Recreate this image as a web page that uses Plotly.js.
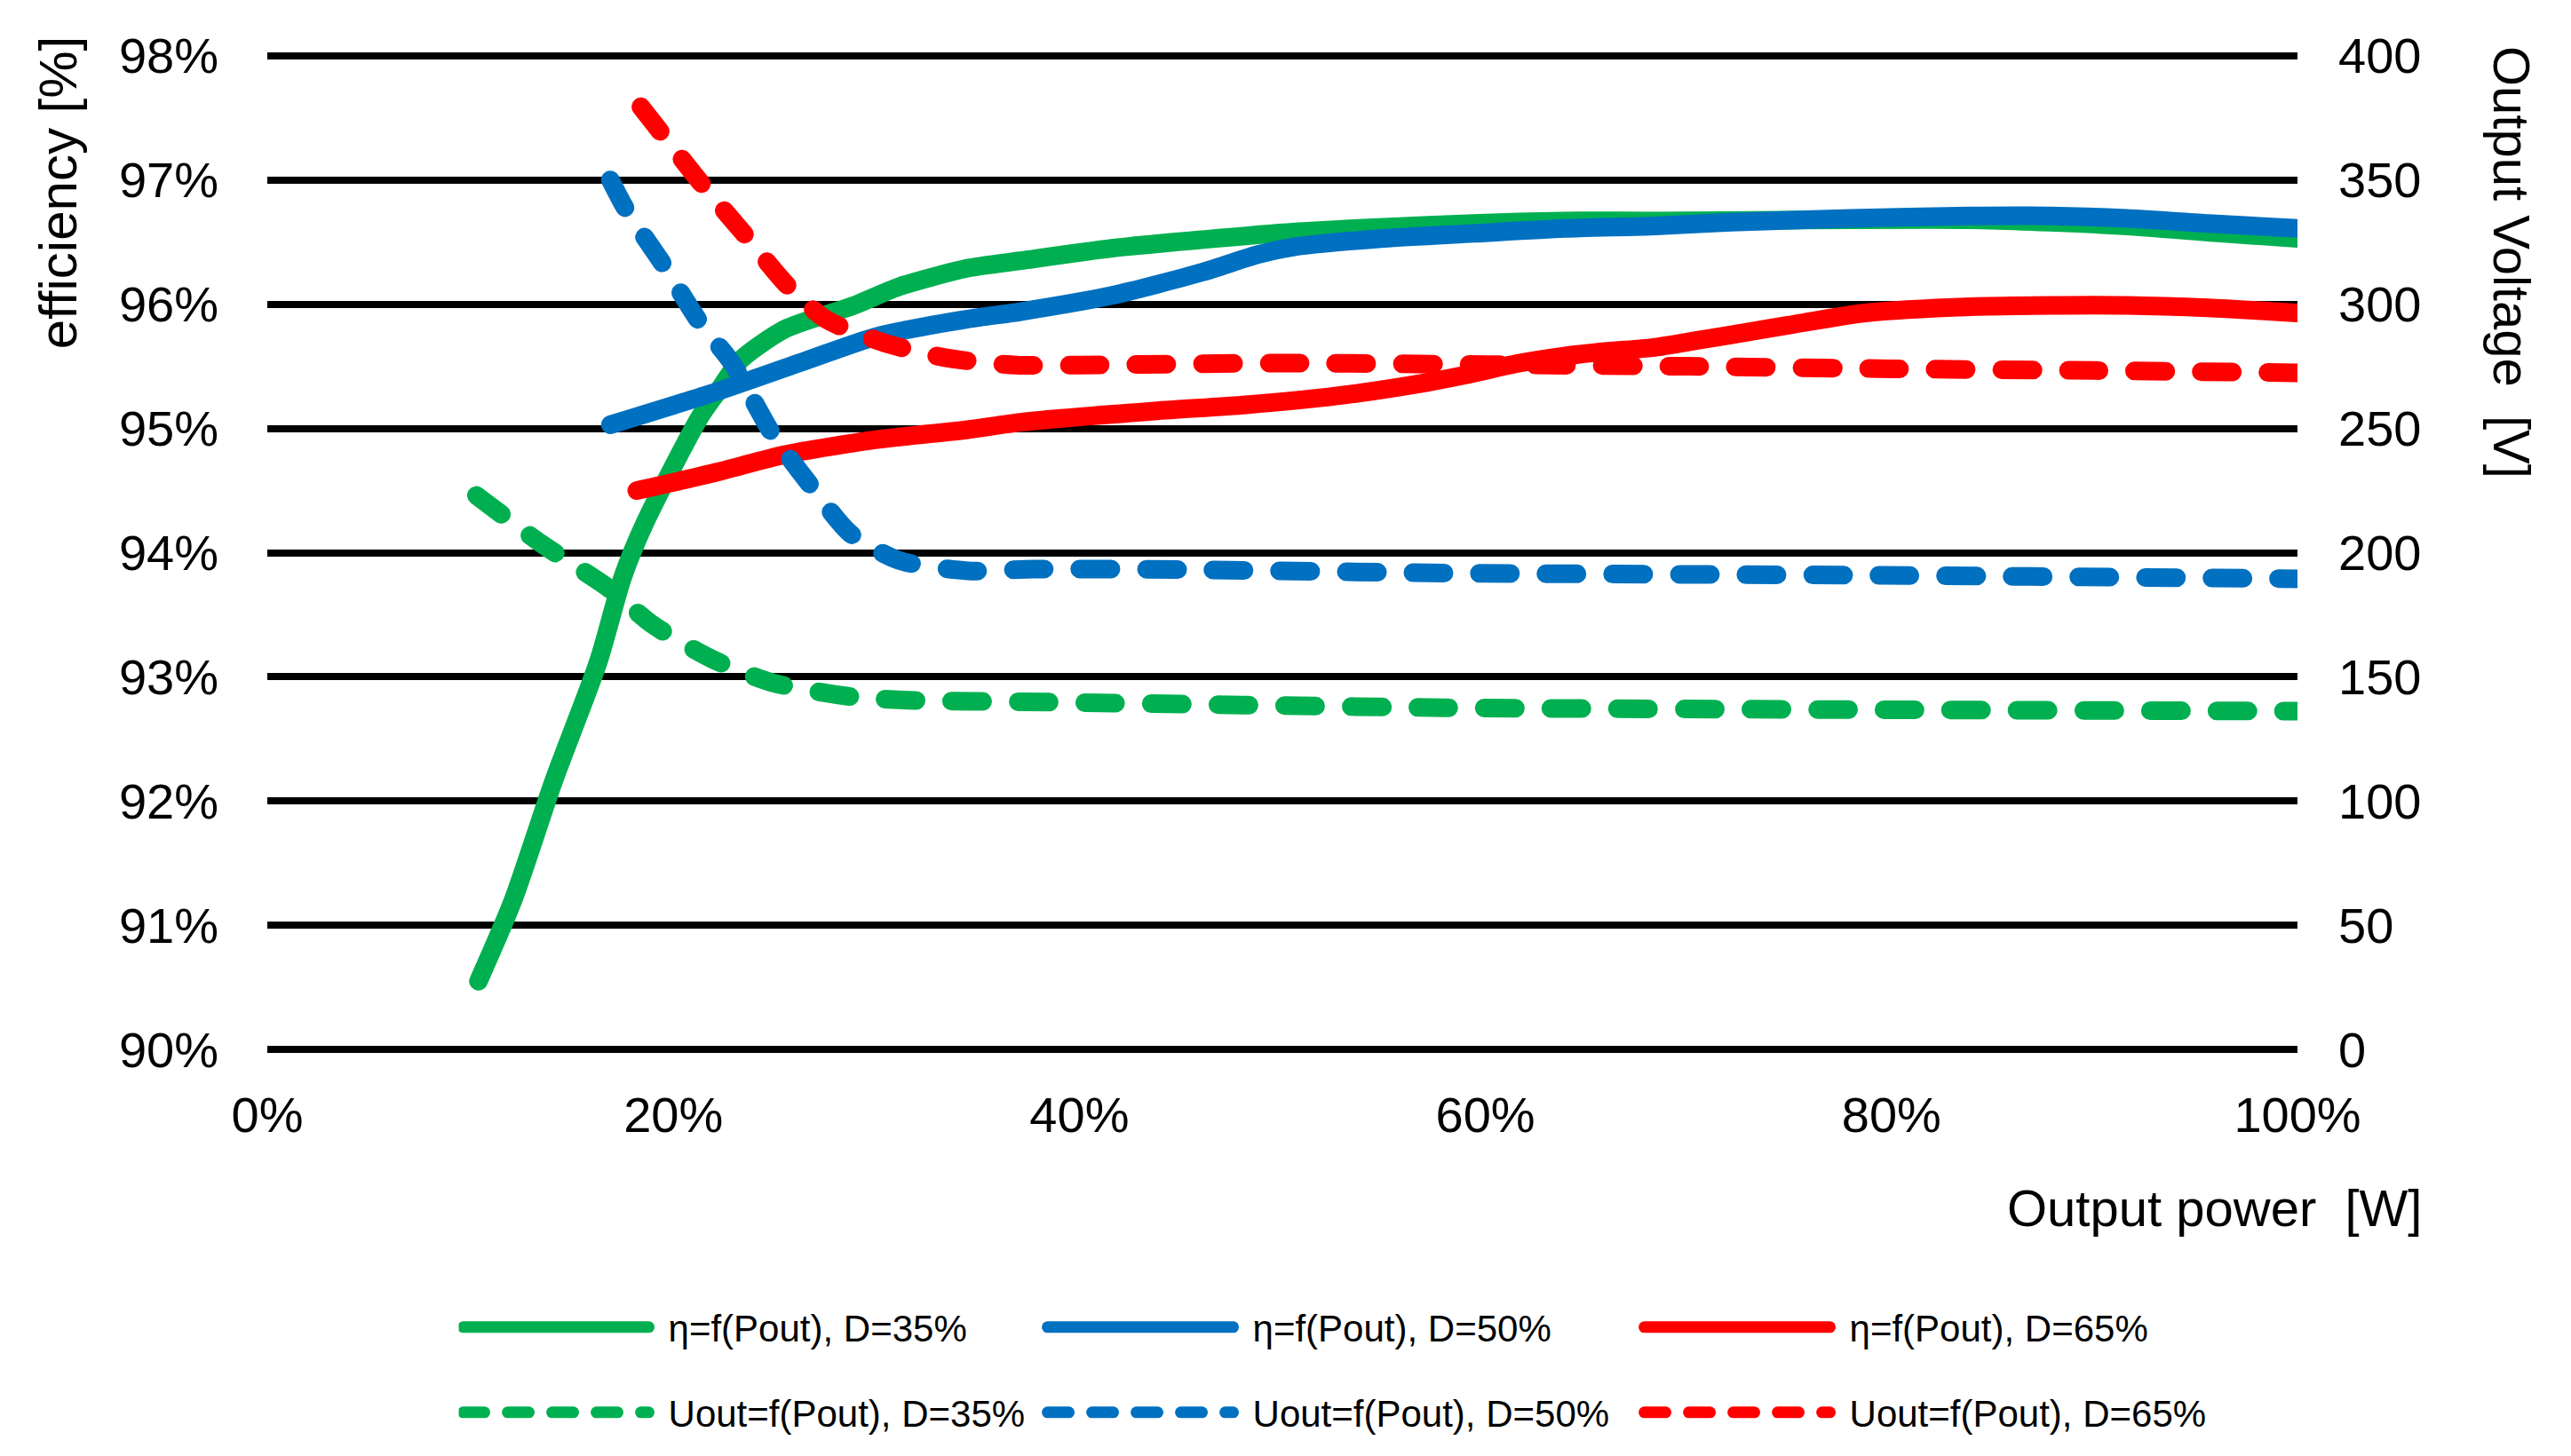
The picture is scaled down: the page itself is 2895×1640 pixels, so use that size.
<!DOCTYPE html>
<html>
<head>
<meta charset="utf-8">
<script src="https://cdn.plot.ly/plotly-3.0.1.min.js"></script>
<style>
html, body { margin: 0; padding: 0; background: #ffffff; }
#chart { width: 2895px; height: 1640px; }
#chart .js-line { stroke-linecap: round; }
#chart .legendlines path.js-line { stroke-width: 13px !important; }
#chart g.legend .legendlines path.js-line { stroke-dasharray: 209px, 3000px !important; }
#chart g.legend2 .legendlines path.js-line { stroke-dasharray: 24px, 26px, 24px, 26px, 24px, 26px, 24px, 26px, 9px, 3000px !important; }
</style>
</head>
<body>
<div id="chart"></div>
<script>
// ---- Data (output power in % of rated, efficiency in %, voltage in V) ----
const etaD35_x = [10.4, 12.1, 14.1, 16.3, 17.5, 18.6, 21.3, 22.2, 23.3, 25.5, 28.9, 31.1, 34.5, 37.1, 41.6, 46.1, 50.5, 55.0, 59.4, 63.9, 68.4, 78.0, 83.9, 87.8, 91.6, 95.6, 100];
const etaD35_y = [90.55, 91.2, 92.16, 93.12, 93.8, 94.24, 95.09, 95.30, 95.55, 95.80, 95.99, 96.14, 96.29, 96.35, 96.45, 96.52, 96.58, 96.62, 96.65, 96.67, 96.67, 96.68, 96.68, 96.66, 96.63, 96.58, 96.53];

const etaD50_x = [16.9, 22.2, 26.6, 30.0, 34.5, 37.1, 41.6, 46.1, 48.8, 50.5, 55.0, 59.4, 63.9, 68.4, 72.1, 78.0, 83.9, 87.8, 91.6, 95.6, 100];
const etaD50_y = [95.03, 95.30, 95.55, 95.74, 95.88, 95.94, 96.07, 96.26, 96.40, 96.46, 96.53, 96.57, 96.61, 96.63, 96.66, 96.69, 96.71, 96.71, 96.69, 96.65, 96.61];

const etaD65_x = [18.2, 22.2, 25.5, 30.0, 34.5, 37.1, 43.7, 48.2, 52.6, 57.1, 59.3, 61.5, 63.8, 66.0, 68.2, 70.5, 72.7, 74.9, 78.7, 83.9, 87.8, 91.6, 95.6, 100];
const etaD65_y = [94.50, 94.65, 94.79, 94.91, 94.99, 95.05, 95.14, 95.19, 95.26, 95.37, 95.44, 95.52, 95.58, 95.62, 95.65, 95.71, 95.77, 95.83, 95.93, 95.98, 95.99, 95.99, 95.97, 95.93];

const uD35_x = [10.3, 13.5, 16.8, 19.0, 21.9, 24.9, 28.8, 32.0, 37.1, 58, 79, 100];
const uD35_y = [223, 203.6, 185.8, 170.9, 157.2, 147.6, 142, 140.5, 140, 137.6, 136.8, 136.2];

const uD50_x = [16.9, 17.7, 19.5, 21.3, 22.9, 24.9, 26.9, 28.7, 31.1, 34.5, 37.8, 45, 58, 79, 100];
const uD50_y = [350, 337.7, 316, 292.7, 276.2, 247.5, 225.6, 207.8, 196.9, 192.7, 193.4, 193.2, 191.8, 190.9, 189.5];

const uD65_x = [18.4, 21.5, 23.5, 25.6, 27.5, 30.4, 33.6, 36.9, 40, 50, 60, 70, 80, 90, 100];
const uD65_y = [379.5, 347.4, 328.2, 307.7, 294, 284.4, 278.2, 275.5, 275.5, 276.3, 275.7, 275.0, 274.0, 273.3, 272.4];

const seriesNames = [
  'η=f(Pout), D=35%', 'η=f(Pout), D=50%', 'η=f(Pout), D=65%',
  'Uout=f(Pout), D=35%', 'Uout=f(Pout), D=50%', 'Uout=f(Pout), D=65%'
];
const colors = ['#00b050', '#0070c0', '#ff0000'];

const xTitle = 'Output power\u00a0\u00a0[W]';
const yTitle = 'efficiency [%]';
const y2Title = 'Output Voltage\u00a0\u00a0[V]';

// ---- Build traces ----
const FONT = 'Liberation Sans, Arial, Helvetica, sans-serif';
const LW = 21;
const DASH = '35px,40px';

function solid(x, y, i, lw) {
  return { type: 'scatter', mode: 'lines', x: x, y: y, name: seriesNames[i],
    line: { color: colors[i % 3], width: LW, shape: 'spline', smoothing: 0.7 },
    yaxis: 'y', legend: 'legend', legendwidth: lw, hoverinfo: 'skip' };
}
function dashed(x, y, i, lw) {
  return { type: 'scatter', mode: 'lines', x: x, y: y, name: seriesNames[i],
    line: { color: colors[i % 3], width: LW, dash: DASH, shape: 'spline', smoothing: 0.7 },
    yaxis: 'y2', legend: 'legend2', legendwidth: lw, hoverinfo: 'skip' };
}

const traces = [
  dashed(uD35_x, uD35_y, 3, 417),
  dashed(uD50_x, uD50_y, 4, 431),
  dashed(uD65_x, uD65_y, 5, 440),
  solid(etaD35_x, etaD35_y, 0, 417),
  solid(etaD50_x, etaD50_y, 1, 431),
  solid(etaD65_x, etaD65_y, 2, 440)
];

const tickFont = { family: FONT, size: 56, color: '#000' };
const legendCommon = {
  orientation: 'h', xanchor: 'left', yanchor: 'middle',
  font: { family: FONT, size: 42, color: '#000' },
  itemwidth: 226, bgcolor: 'rgba(0,0,0,0)', borderwidth: 0,
  traceorder: 'normal', itemclick: false, itemdoubleclick: false
};

const layout = {
  width: 2895, height: 1640,
  paper_bgcolor: '#fff', plot_bgcolor: '#fff',
  margin: { l: 301, r: 308, t: 60, b: 455 },
  font: { family: FONT, color: '#000' },
  showlegend: true,
  xaxis: {
    range: [0, 100], dtick: 20, tick0: 0, ticksuffix: '%',
    showgrid: false, zeroline: false, showline: false, ticks: '',
    ticklabelstandoff: 33, tickfont: tickFont, fixedrange: true
  },
  yaxis: {
    range: [89.98, 98.02], dtick: 1, tick0: 90, ticksuffix: '%',
    showgrid: true, gridcolor: '#000', gridwidth: 8,
    zeroline: false, showline: false, ticks: '',
    ticklabelstandoff: 54, tickfont: tickFont, fixedrange: true
  },
  yaxis2: {
    range: [-1, 401], dtick: 50, tick0: 0, overlaying: 'y', side: 'right',
    showgrid: false, zeroline: false, showline: false, ticks: '',
    ticklabelstandoff: 45, tickfont: tickFont, fixedrange: true
  },
  legend: Object.assign({}, legendCommon, { x: 0.0943, y: -0.2756 }),
  legend2: Object.assign({}, legendCommon, { x: 0.0943, y: -0.3609 }),
  annotations: [
    { text: xTitle, xref: 'paper', yref: 'paper', x: 1.0621, y: -0.1564,
      xanchor: 'right', yanchor: 'middle', showarrow: false,
      font: { family: FONT, size: 58, color: '#000' } },
    { text: yTitle, xref: 'paper', yref: 'paper', x: -0.1032, y: 0.8604,
      xanchor: 'center', yanchor: 'middle', textangle: -90, showarrow: false,
      font: { family: FONT, size: 60, color: '#000' } },
    { text: y2Title, xref: 'paper', yref: 'paper', x: 1.1059, y: 0.7911,
      xanchor: 'center', yanchor: 'middle', textangle: 90, showarrow: false,
      font: { family: FONT, size: 58, color: '#000' } }
  ]
};

Plotly.newPlot('chart', traces, layout, { staticPlot: true, displayModeBar: false });
</script>
</body>
</html>
